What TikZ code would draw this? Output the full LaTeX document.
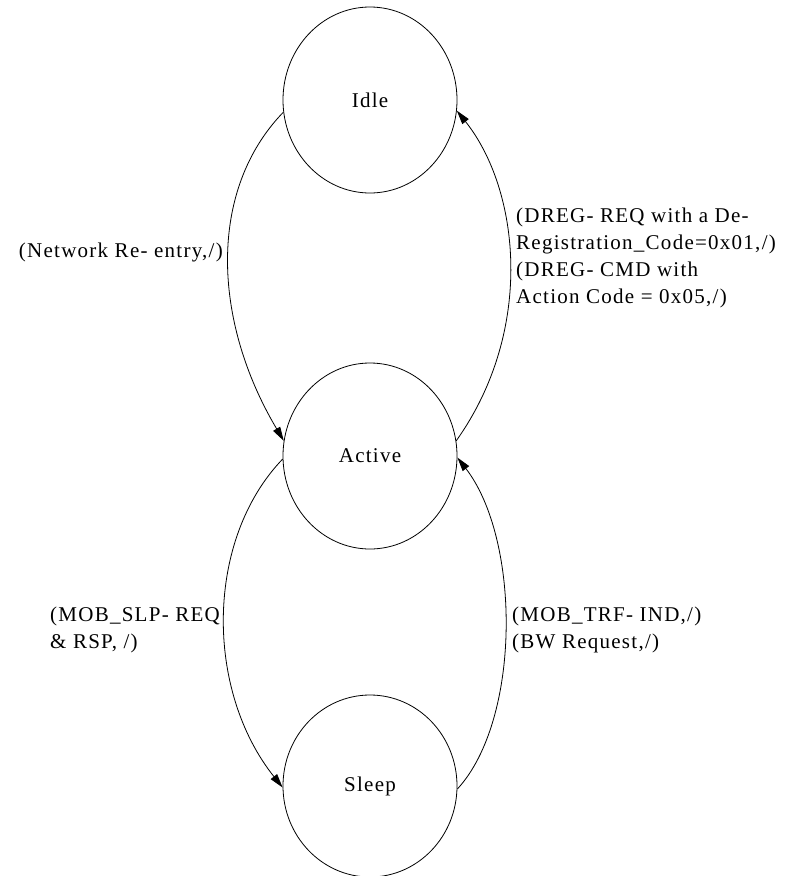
\documentclass[tikz,border=0pt]{standalone}
\usepackage{fontspec}
\setmainfont{Liberation Serif}[LetterSpace=6]
\usetikzlibrary{shapes.geometric,arrows.meta}
\tikzset{
  state/.style={draw, ellipse, line width=0.8pt, minimum width=174pt, minimum height=186pt, inner sep=0pt,
    font=\fontsize{21}{26}\selectfont},
  trans/.style={line width=0.8pt, -{Triangle[length=14pt,width=8pt]}},
  lbl/.style={inner sep=0pt, align=left, font=\fontsize{21}{27}\selectfont}
}
\begin{document}
\begin{tikzpicture}[x=1pt,y=-1pt]
\useasboundingbox (0,0) rectangle (791,876);
\node[state] (idle) at (370,100) {Idle};
\node[state] (active) at (370,456) {Active};
\node[state, minimum height=182pt] (sleep) at (370,786) {Sleep};

\draw[trans] (idle.188) .. controls (208,190) and (212,320) .. (active.170);
\draw[trans] (active.10) .. controls (535,330) and (520,190) .. (idle.353);
\draw[trans] (active.182) .. controls (205,540) and (205,690) .. (sleep.181);
\draw[trans] (sleep.358) .. controls (521,720) and (521,540) .. (active.359);

\node[lbl, anchor=east] (l1) at (223,252) {(Network Re- entry,/)};
\node[lbl, anchor=west] (l2) at (516,258) {(DREG- REQ with a De-\\Registration\_Code=0x01,/)\\(DREG- CMD with\\Action Code = 0x05,/)};
\node[lbl, anchor=west] (l3) at (50,630) {(MOB\_SLP- REQ\\\& RSP, /)};
\node[lbl, anchor=west] (l4) at (512,630) {(MOB\_TRF- IND,/)\\(BW Request,/)};
\end{tikzpicture}
\end{document}
